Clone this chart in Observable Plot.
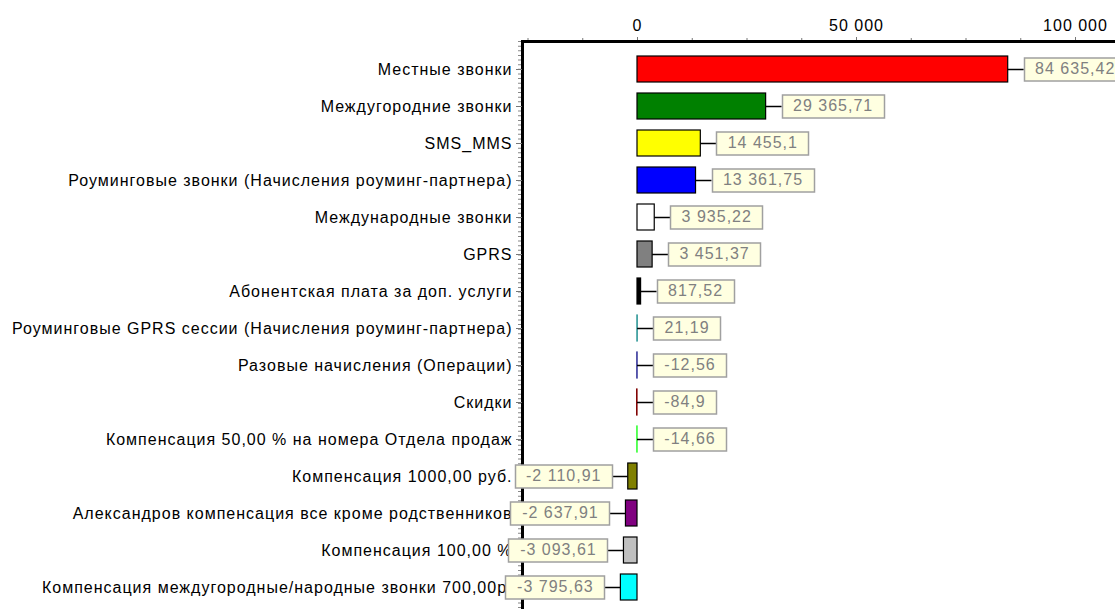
<!DOCTYPE html>
<html><head><meta charset="utf-8">
<script src="https://cdn.jsdelivr.net/npm/d3@7"></script>
<script src="https://cdn.jsdelivr.net/npm/@observablehq/plot@0.6"></script>
<style>
html,body{margin:0;padding:0;background:#fff;}
#chart{position:absolute;left:0;top:0;}
#chart text{letter-spacing:1px;}
</style></head><body><div id="chart"></div>
<script>
const categories = [
  "Местные звонки",
  "Междугородние звонки",
  "SMS_MMS",
  "Роуминговые звонки (Начисления роуминг-партнера)",
  "Международные звонки",
  "GPRS",
  "Абонентская плата за доп. услуги",
  "Роуминговые GPRS сессии (Начисления роуминг-партнера)",
  "Разовые начисления (Операции)",
  "Скидки",
  "Компенсация 50,00 % на номера Отдела продаж",
  "Компенсация 1000,00 руб.",
  "Александров компенсация все кроме родственников",
  "Компенсация 100,00 %",
  "Компенсация междугородные/народные звонки 700,00р."
];
const values = [84635.42, 29365.71, 14455.1, 13361.75, 3935.22, 3451.37, 817.52, 21.19, -12.56, -84.9, -14.66, -2110.91, -2637.91, -3093.61, -3795.63];
const colors = ["#FF0000", "#008000", "#FFFF00", "#0000FF", "#FFFFFF", "#808080", "#000000", "#008080", "#000080", "#800000", "#00FF00", "#808000", "#800080", "#C0C0C0", "#00FFFF"];
const majorTicks = [0, 50000, 100000];
const minorTicks = [-25000, -12500, 12500, 25000, 37500, 62500, 75000, 87500];
const xDomain = [-26256, 109132];

const FONT = "'Liberation Sans', Arial, sans-serif";
const FS = 16;
const LS = 1;
const loc = d3.formatLocale({decimal: ",", thousands: " ", grouping: [3], currency: ["", ""], minus: "-"});
const fmtValue = loc.format(",.2~f");
const fmtTick = loc.format(",d");

const rows = categories.map((c, i) => ({cat: c, value: values[i], color: colors[i]}));

function valueLabels(index, scales) {
  const x = scales.x, y = scales.y;
  const bw = (y.bandwidth && y.bandwidth()) || (scales.scales && scales.scales.y && scales.scales.y.bandwidth) || 26;
  const ctx = document.createElement("canvas").getContext("2d");
  ctx.font = FS + "px " + FONT;
  const g = d3.create("svg:g");
  rows.forEach(d => {
    const txt = fmtValue(d.value);
    const tw = ctx.measureText(txt).width + LS * txt.length;
    const bwid = Math.round(tw + 22), bh = 23;
    const cy = Math.round(y(d.cat) + bw / 2);
    const left = d.value < -1000;
    const x0 = left ? x(Math.min(0, d.value)) : x(Math.max(0, d.value));
    const gap = 16;
    const x1 = left ? x0 - gap : x0 + gap;
    const bx = left ? x1 - bwid : x1;
    g.append("line").attr("x1", x0).attr("x2", x1).attr("y1", cy + 0.5).attr("y2", cy + 0.5)
      .attr("stroke", "#000").attr("stroke-width", 1.5);
    g.append("rect").attr("x", Math.round(bx) + 0.5).attr("y", cy - bh / 2 + 0.5).attr("width", bwid).attr("height", bh)
      .attr("fill", "#FFFFE1").attr("stroke", "#A0A0A0").attr("stroke-width", 1.5);
    g.append("text").attr("x", bx + bwid / 2 + LS / 2).attr("y", cy + 1).attr("text-anchor", "middle")
      .attr("dominant-baseline", "middle").attr("fill", "#808080")
      .attr("font-family", FONT).attr("font-size", FS).text(txt);
  });
  return g.node();
}

const plot = Plot.plot({
  width: 1115, height: 609,
  marginLeft: 522, marginRight: 0, marginTop: 41, marginBottom: 0,
  style: {fontFamily: FONT, fontSize: FS + "px", color: "#000", background: "#fff", overflow: "visible"},
  x: {domain: xDomain, axis: null},
  y: {domain: categories, range: [43, 612], padding: 0.3, axis: null},
  color: {type: "identity"},
  marks: [
    Plot.axisX(minorTicks, {anchor: "top", tickSize: 4, tickFormat: () => "", stroke: "#777", label: null}),
    Plot.axisX(majorTicks, {anchor: "top", tickSize: 5, tickPadding: 6, tickFormat: fmtTick, stroke: "#777", fill: "#000", fontSize: FS, label: null}),
    Plot.frame({anchor: "top", stroke: "#000", strokeWidth: 3}),
    Plot.ruleX([xDomain[0]], {dx: -3, stroke: "#888", strokeWidth: 3, strokeDasharray: "1 3.64"}),
    Plot.ruleX([xDomain[0]], {stroke: "#000", strokeWidth: 3}),
    Plot.axisY({anchor: "left", tickSize: 6, tickPadding: 4, stroke: "#777", fill: "#000", fontSize: FS, label: null}),
    Plot.barX(rows, {
      x1: 0, x2: "value", y: "cat", fill: "color",
      stroke: d => Math.abs(d.value) < 100 ? d.color : "#000", strokeWidth: 1.2
    }),
    valueLabels
  ]
});
document.getElementById("chart").appendChild(plot);
</script>
</body></html>
